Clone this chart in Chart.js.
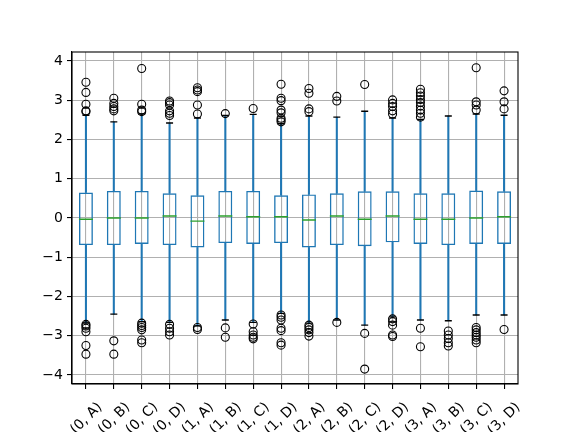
<!DOCTYPE html>
<html>
<head>
<meta charset="utf-8">
<script src="https://cdn.jsdelivr.net/npm/chart.js@4.4.1/dist/chart.umd.min.js"></script>
<style>
  html, body { margin: 0; padding: 0; background: #fff; }
  #wrap { width: 576px; height: 432px; }
</style>
</head>
<body>
<div id="wrap"><canvas id="boxChart" width="576" height="432"></canvas></div>
<script>
var categories = ['(0, A)', '(0, B)', '(0, C)', '(0, D)', '(1, A)', '(1, B)', '(1, C)', '(1, D)',
  '(2, A)', '(2, B)', '(2, C)', '(2, D)', '(3, A)', '(3, B)', '(3, C)', '(3, D)'];
var q1 = [-0.69, -0.69, -0.66, -0.69, -0.75, -0.64, -0.66, -0.64, -0.75, -0.69, -0.72, -0.62, -0.66, -0.69, -0.66, -0.66];
var medians = [-0.03, 0.00, 0.00, 0.05, -0.08, 0.05, 0.03, 0.03, -0.05, 0.05, -0.03, 0.05, -0.03, -0.03, 0.00, 0.03];
var q3 = [0.65, 0.69, 0.69, 0.63, 0.58, 0.69, 0.69, 0.58, 0.60, 0.63, 0.68, 0.68, 0.63, 0.63, 0.70, 0.68];
var whiskerLo = [-2.68, -2.45, -2.64, -2.66, -2.75, -2.60, -2.66, -2.43, -2.68, -2.60, -2.73, -2.52, -2.60, -2.62, -2.47, -2.47];
var whiskerHi = [2.62, 2.45, 2.65, 2.42, 2.55, 2.61, 2.64, 2.40, 2.60, 2.57, 2.72, 2.55, 2.51, 2.60, 2.65, 2.62];
var fliers = [
  [3.46, 3.20, 2.90, 2.73, 2.71, -2.71, -2.75, -2.81, -2.90, -3.25, -3.47],
  [3.05, 2.92, 2.84, 2.78, 2.73, -3.13, -3.47],
  [3.81, 2.90, 2.75, 2.71, -2.68, -2.74, -2.79, -2.85, -3.11, -3.18],
  [2.98, 2.94, 2.88, 2.73, 2.67, 2.61, -2.71, -2.81, -2.90, -2.98],
  [3.32, 3.26, 3.22, 2.88, 2.65, -2.79, -2.84],
  [2.66, -2.80, -3.04],
  [2.79, -2.70, -2.90, -2.98, -3.04, -3.08],
  [3.41, 3.05, 2.99, 2.75, 2.68, 2.54, 2.50, 2.45, -2.47, -2.53, -2.60, -2.81, -2.87, -3.18, -3.24],
  [3.30, 3.18, 2.78, 2.71, -2.73, -2.79, -2.85, -2.92, -3.01],
  [3.10, 2.98, -2.66],
  [3.40, -2.94, -3.85],
  [3.01, 2.92, 2.84, 2.73, 2.65, -2.57, -2.64, -2.73, -2.98, -3.02],
  [3.28, 3.19, 3.11, 3.02, 2.94, 2.85, 2.75, 2.67, 2.57, -2.81, -3.28],
  [-2.88, -2.98, -3.07, -3.18, -3.26],
  [3.83, 2.96, 2.88, 2.75, -2.79, -2.85, -2.92, -2.98, -3.04, -3.11, -3.18],
  [3.24, 2.96, 2.78, -2.84]
];
var yTicks = [-4, -3, -2, -1, 0, 1, 2, 3, 4];

var boxBlue = '#1f77b4';
var medianGreen = '#2ca02c';

function pairs(a, b) {
  return a.map(function (v, i) { return [v, b[i]]; });
}

// one point per outlier, placed on its category label
var flierPoints = [];
fliers.forEach(function (list, i) {
  list.forEach(function (v) { flierPoints.push({ x: categories[i], y: v }); });
});

// top and right spines
var framePlugin = {
  id: 'frame',
  afterDatasetsDraw: function (chart) {
    var a = chart.chartArea, ctx = chart.ctx;
    ctx.save();
    ctx.strokeStyle = '#000';
    ctx.lineWidth = 1.1;
    ctx.strokeRect(a.left, a.top, a.right - a.left, a.bottom - a.top);
    ctx.restore();
  }
};

new Chart(document.getElementById('boxChart'), {
  type: 'bar',
  data: {
    labels: categories,
    datasets: [
      {
        label: 'whisker low', data: pairs(whiskerLo, q1), grouped: false,
        barThickness: 1.4, backgroundColor: boxBlue, borderWidth: 0, order: 5
      },
      {
        label: 'whisker high', data: pairs(q3, whiskerHi), grouped: false,
        barThickness: 1.4, backgroundColor: boxBlue, borderWidth: 0, order: 5
      },
      {
        label: 'box', data: pairs(q1, q3), grouped: false,
        barPercentage: 0.5, categoryPercentage: 1,
        backgroundColor: 'rgba(0,0,0,0)', borderColor: boxBlue, borderWidth: 1.4,
        borderSkipped: false, order: 4
      },
      {
        type: 'line', label: 'median', data: medians, showLine: false,
        pointStyle: 'line', pointRadius: 7, pointBorderColor: medianGreen,
        pointBorderWidth: 1.4, order: 3
      },
      {
        type: 'line', label: 'cap low', data: whiskerLo, showLine: false,
        pointStyle: 'line', pointRadius: 3.5, pointBorderColor: '#000',
        pointBorderWidth: 1.4, order: 3
      },
      {
        type: 'line', label: 'cap high', data: whiskerHi, showLine: false,
        pointStyle: 'line', pointRadius: 3.5, pointBorderColor: '#000',
        pointBorderWidth: 1.4, order: 3
      },
      {
        type: 'line', label: 'fliers', data: flierPoints, showLine: false,
        pointStyle: 'circle', pointRadius: 4, pointBorderColor: '#000',
        pointBackgroundColor: 'rgba(0,0,0,0)', pointBorderWidth: 1.1, order: 2
      }
    ]
  },
  options: {
    responsive: false,
    animation: false,
    devicePixelRatio: 1,
    layout: { padding: { top: 52, right: 58, left: 0, bottom: 0 } },
    plugins: { legend: { display: false }, tooltip: { enabled: false } },
    scales: {
      x: {
        offset: true,
        grid: { offset: false, color: '#b0b0b0', lineWidth: 1.1, tickColor: '#000', tickLength: 5, tickWidth: 1.1 },
        border: { color: '#000', width: 1.1 },
        ticks: {
          autoSkip: false, minRotation: 45, maxRotation: 45, labelOffset: 14, padding: 10,
          color: '#000', font: { family: 'DejaVu Sans', size: 14 }
        },
        afterFit: function (scale) { scale.height = 48; }
      },
      y: {
        min: -4.23, max: 4.23,
        afterBuildTicks: function (scale) {
          scale.ticks = yTicks.map(function (v) { return { value: v }; });
        },
        grid: { color: '#b0b0b0', lineWidth: 1.1, tickColor: '#000', tickLength: 5, tickWidth: 1.1 },
        border: { color: '#000', width: 1.1 },
        ticks: {
          padding: 4, color: '#000', font: { family: 'DejaVu Sans', size: 14 },
          callback: function (v) { return v < 0 ? '\u2212' + Math.abs(v) : String(v); }
        },
        afterFit: function (scale) { scale.width = 72; }
      }
    }
  },
  plugins: [framePlugin]
});
</script>
</body>
</html>
